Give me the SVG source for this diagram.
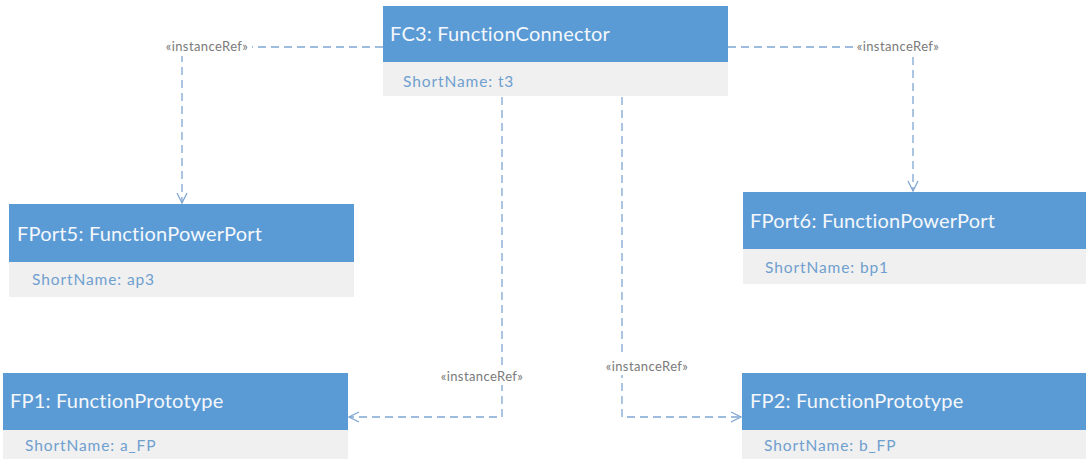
<svg xmlns="http://www.w3.org/2000/svg" width="1086" height="459" viewBox="0 0 1086 459">
  <defs>
    <style>
      .hdr { fill: #5b9bd5; }
      .body { fill: #f0f0f0; }
      .title { font-family: Lato, "Liberation Sans", sans-serif; font-size: 20px; letter-spacing: 0.2px; fill: #f4f7fb; }
      .attr { font-family: Lato, "Liberation Sans", sans-serif; font-size: 15.5px; letter-spacing: 0.9px; fill: #6f9fcf; }
      .conn { fill: none; stroke: #7fa6d2; stroke-width: 1.3; stroke-dasharray: 8 5; }
      .lbl { font-family: Lato, "Liberation Sans", sans-serif; font-size: 13px; letter-spacing: 0.4px; fill: #7a7a7a; text-anchor: middle; }
      .lblbg { fill: #ffffff; }
    </style>
    <marker id="open" viewBox="0 0 12 12" refX="11" refY="6" markerWidth="12" markerHeight="12" markerUnits="userSpaceOnUse" orient="auto">
      <path d="M1,1 L11,6 L1,11" fill="none" stroke="#7fa6d2" stroke-width="1.3"/>
    </marker>
  </defs>

  <rect width="1086" height="459" fill="#ffffff"/>

  <!-- connectors -->
  <g id="connectors">
    <path class="conn" d="M383,47 H182 V203" marker-end="url(#open)"/>
    <path class="conn" d="M728,47 H913 V191" marker-end="url(#open)"/>
    <path class="conn" d="M502,97 V417 H349" marker-end="url(#open)"/>
    <path class="conn" d="M622,97 V417 H741" marker-end="url(#open)"/>
    <rect class="lblbg" x="163" y="37" width="89" height="19"/>
    <text class="lbl" x="207" y="51">«instanceRef»</text>
    <rect class="lblbg" x="853" y="37" width="91" height="19"/>
    <text class="lbl" x="898" y="51">«instanceRef»</text>
    <rect class="lblbg" x="438" y="367" width="89" height="18"/>
    <text class="lbl" x="482" y="381">«instanceRef»</text>
    <rect class="lblbg" x="603" y="357" width="88" height="18"/>
    <text class="lbl" x="647" y="371">«instanceRef»</text>
  </g>

  <g id="fc3">
    <rect class="body" x="383" y="62" width="345" height="34"/>
    <rect class="hdr" x="383" y="6" width="345" height="56"/>
    <text class="title" x="390" y="41">FC3: FunctionConnector</text>
    <text class="attr" x="403" y="87">ShortName: t3</text>
  </g>

  <g id="fport5">
    <rect class="body" x="9" y="262" width="345" height="35"/>
    <rect class="hdr" x="9" y="204" width="345" height="58"/>
    <text class="title" x="17" y="241">FPort5: FunctionPowerPort</text>
    <text class="attr" x="32" y="285">ShortName: ap3</text>
  </g>

  <g id="fport6">
    <rect class="body" x="743" y="249" width="343" height="35"/>
    <rect class="hdr" x="743" y="192" width="343" height="57"/>
    <text class="title" x="750" y="228">FPort6: FunctionPowerPort</text>
    <text class="attr" x="765" y="273">ShortName: bp1</text>
  </g>

  <g id="fp1">
    <rect class="body" x="3" y="430" width="345" height="29"/>
    <rect class="hdr" x="3" y="373" width="345" height="57"/>
    <text class="title" x="10" y="408">FP1: FunctionPrototype</text>
    <text class="attr" x="25" y="451">ShortName: a_FP</text>
  </g>

  <g id="fp2">
    <rect class="body" x="742" y="430" width="344" height="29"/>
    <rect class="hdr" x="742" y="373" width="344" height="57"/>
    <text class="title" x="750" y="408">FP2: FunctionPrototype</text>
    <text class="attr" x="764" y="451">ShortName: b_FP</text>
  </g>
</svg>
